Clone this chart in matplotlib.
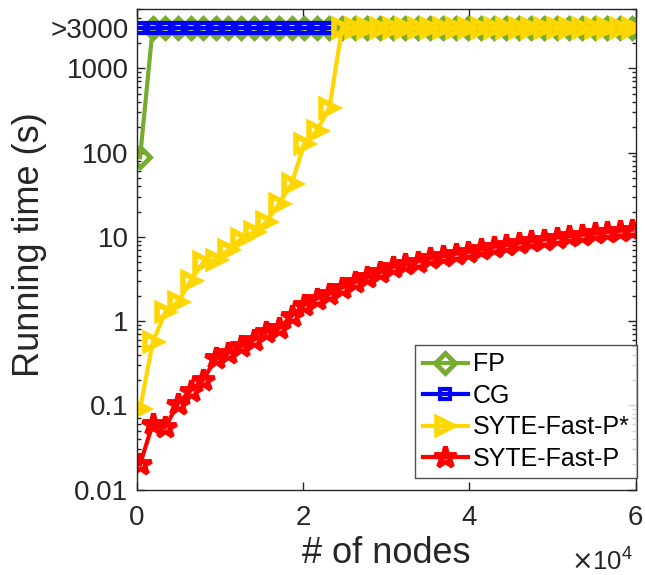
import numpy as np
import matplotlib.pyplot as plt
from matplotlib.ticker import FixedLocator, LogLocator, NullFormatter

plt.rcParams['font.family'] = ['Liberation Sans', 'DejaVu Sans']

# number of nodes (40 runs)
nodes = np.linspace(400, 59600, 40)

# running times in seconds, 3000 means the run did not finish (>3000)
fp = [88] + [3000] * 39
cg = [3000] * 16
syte_star = [0.09, 0.56, 1.28, 1.68, 3.0, 5.0, 5.3, 7.0, 9.5, 11.3,
             14.9, 24.6, 42.5, 126, 182, 343] + [3000] * 24
syte = [0.020, 0.060, 0.055, 0.105, 0.15, 0.20, 0.36, 0.42, 0.50, 0.60,
        0.74, 0.82, 1.15, 1.55, 1.85, 2.1, 2.5, 2.9, 3.3, 3.8,
        4.4, 4.7, 5.1, 5.6, 5.9, 6.3, 6.6, 7.1, 7.6, 8.0,
        8.5, 8.9, 9.3, 9.8, 10.2, 10.6, 11.0, 11.4, 11.8, 12.2]

ytick_vals = [0.01, 0.1, 1, 10, 100, 1000, 3000]
ytick_text = ['0.01', '0.1', '1', '10', '100', '1000', '>3000']
xtick_vals = [0, 20000, 40000, 60000]
xtick_text = ['0', '2', '4', '6']

green = '#77AC30'
blue = '#0000FF'
yellow = '#FFD700'
red = '#FF0000'
dark = '#262626'

fig = plt.figure(figsize=(6.45, 5.75), dpi=100)
ax = fig.add_axes([0.212, 0.1485, 0.7736, 0.835])

ax.plot(nodes, fp, color=green, lw=3, marker='D', ms=10, mfc='none', mew=3.5, label='FP')
ax.plot(nodes[:len(cg)], cg, color=blue, lw=3, marker='s', ms=7, mfc='none', mew=3, label='CG')
ax.plot(nodes, syte_star, color=yellow, lw=3, marker='>', ms=12, mfc='none', mew=4, label='SYTE-Fast-P*')
ax.plot(nodes, syte, color=red, lw=3, marker='*', ms=16, mfc='none', mew=3.5, label='SYTE-Fast-P')

ax.set_yscale('log')
ax.set_ylim(0.01, 5000)
ax.set_xlim(0, 60000)

ax.yaxis.set_major_locator(FixedLocator(ytick_vals))
ax.set_yticklabels(ytick_text)
ax.yaxis.set_minor_locator(LogLocator(base=10, subs=np.arange(2, 10)))
ax.yaxis.set_minor_formatter(NullFormatter())
ax.set_xticks(xtick_vals)
ax.set_xticklabels(xtick_text)

ax.tick_params(which='both', direction='in', top=True, right=True,
               colors=dark, labelsize=20, width=1)
ax.tick_params(which='major', length=6)
ax.tick_params(which='minor', length=3)
ax.tick_params(axis='y', pad=6)
ax.tick_params(axis='x', pad=11)
for s in ax.spines.values():
    s.set_color(dark)
    s.set_linewidth(1)

ax.set_xlabel('# of nodes', fontsize=26, color=dark, labelpad=4)
ax.set_ylabel('Running time (s)', fontsize=26, color=dark)
ax.yaxis.set_label_coords(-0.18, 0.51)
ax.text(0.995, -0.122, r'$\times\mathregular{10^4}$', transform=ax.transAxes,
        ha='right', va='top', fontsize=18.5, color=dark)

leg = ax.legend(loc='lower right', bbox_to_anchor=(1.003, 0.0235), fontsize=18,
                frameon=True, fancybox=False, edgecolor=dark, borderpad=0.3,
                labelspacing=0.3, handlelength=1.8, handletextpad=0.2,
                borderaxespad=0)
leg.get_frame().set_linewidth(1)

fig.savefig('out.png', dpi=100)
